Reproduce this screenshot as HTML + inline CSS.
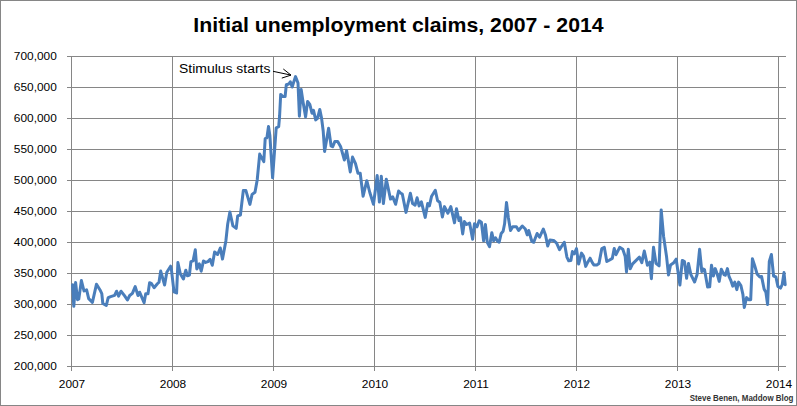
<!DOCTYPE html>
<html><head><meta charset="utf-8"><style>
html,body{margin:0;padding:0;background:#fff;}
body{width:797px;height:406px;position:relative;overflow:hidden;font-family:"Liberation Sans",sans-serif;}
.frame{position:absolute;left:0;top:0;width:795px;height:404px;border:1px solid #868686;}
svg{position:absolute;left:0;top:0;}
.title{position:absolute;left:0;width:797px;top:13px;text-align:center;font-weight:bold;font-size:21px;line-height:23px;color:#000;}
.title span{display:inline-block;transform:scaleX(1.013);transform-origin:center;}
.yl{position:absolute;right:740px;font-size:11px;line-height:14px;color:#000;transform:scaleX(1.08);transform-origin:right;}
.xl{position:absolute;top:377px;width:40px;text-align:center;font-size:11px;line-height:14px;color:#000;transform:scaleX(1.08);}
.ann{position:absolute;left:179px;top:62px;font-size:12.5px;line-height:15px;color:#000;transform:scaleX(1.115);transform-origin:left;white-space:nowrap;}
.foot{position:absolute;right:3.5px;top:392.5px;font-size:8.7px;line-height:10px;font-weight:bold;color:#333;transform:scaleX(0.915);transform-origin:right;white-space:nowrap;}
</style></head><body>
<div class="frame"></div>
<div class="title"><span>Initial unemployment claims, 2007 - 2014</span></div>
<svg width="797" height="406" viewBox="0 0 797 406">
<g stroke="#868686" stroke-width="1" fill="none" shape-rendering="crispEdges">
<line x1="67" y1="56.5" x2="786" y2="56.5"/>
<line x1="67" y1="87.5" x2="786" y2="87.5"/>
<line x1="67" y1="118.5" x2="786" y2="118.5"/>
<line x1="67" y1="149.5" x2="786" y2="149.5"/>
<line x1="67" y1="180.5" x2="786" y2="180.5"/>
<line x1="67" y1="211.5" x2="786" y2="211.5"/>
<line x1="67" y1="242.5" x2="786" y2="242.5"/>
<line x1="67" y1="273.5" x2="786" y2="273.5"/>
<line x1="67" y1="304.5" x2="786" y2="304.5"/>
<line x1="67" y1="335.5" x2="786" y2="335.5"/>
<line x1="67" y1="366.5" x2="786" y2="366.5"/>
<line x1="71.5" y1="56" x2="71.5" y2="371"/>
<line x1="172.5" y1="56" x2="172.5" y2="371"/>
<line x1="273.5" y1="56" x2="273.5" y2="371"/>
<line x1="374.5" y1="56" x2="374.5" y2="371"/>
<line x1="475.5" y1="56" x2="475.5" y2="371"/>
<line x1="576.5" y1="56" x2="576.5" y2="371"/>
<line x1="677.5" y1="56" x2="677.5" y2="371"/>
<line x1="778.5" y1="56" x2="778.5" y2="371"/>
</g>
<path d="M72.6,284.8 L73.8,306.3 L75.6,282.5 L77.5,299.7 L78.8,299 L81.4,280.5 L84,291 L86.6,289.8 L88.7,298.7 L92.4,302.3 L96.5,284.2 L99.9,289.7 L101.8,293.6 L102.8,303.5 L106.3,305.5 L108.2,297.6 L110.7,296.6 L114.6,295.4 L116.6,291.2 L118.6,296.1 L121,291.2 L124.5,295.6 L127.4,300 L129.7,295.5 L132.4,293.3 L135.2,286.6 L138,295.5 L139.6,292.2 L144.1,302.7 L145.7,293.8 L148,293.8 L149.6,282.7 L151.3,283.3 L154.1,287.7 L157.4,283.8 L159,282.2 L160.7,271.1 L164.6,285 L166.8,272.2 L170.6,266.2 L171.4,269.4 L174,291.8 L176.6,293 L177.9,262.6 L180.2,273.4 L183.4,279 L185.8,270.2 L187.4,275.8 L189.4,275 L190.9,261.6 L193.1,260.9 L195.3,249.8 L196.8,269 L199.3,263.8 L201.2,271.2 L203.5,260.9 L205.7,262.4 L207.9,261.6 L210.1,259.4 L212.3,265.3 L214.6,252 L217.6,254.5 L220.3,248 L222.5,259.1 L225.9,240.7 L227.7,224 L229.9,212 L232.9,225.9 L236.2,228.3 L237.7,215.9 L240.4,215 L243.3,190.6 L245.9,190.6 L249.9,204.4 L252.1,194.4 L255,192.2 L257.2,180 L259.7,154.1 L263.8,161.6 L265.2,138.6 L266.9,137.9 L268.5,126.4 L269.9,135.8 L272.6,177.8 L276.2,127.8 L278.7,126.7 L279.6,116 L280.7,94.4 L282.9,96.6 L285.1,96.6 L286.3,84.8 L288.8,84 L290.3,81.8 L292.2,87 L294,81.1 L295.5,76.6 L298,83 L299.4,116.2 L301.2,89.6 L303.1,102.2 L305.6,116.9 L307.6,101.4 L309.8,104.4 L312,113.2 L313.5,110.3 L315.7,119.9 L317.5,118.4 L319.8,109.5 L321.6,118.4 L323.2,131 L324.6,151.5 L328.6,128.3 L331.1,146 L332.6,146.8 L334.8,141.6 L337.7,141.6 L340.7,146.8 L344.4,160 L346.6,150.5 L350.3,171.9 L352.5,157.1 L355.5,163.7 L358,173.3 L360.2,173.3 L363.1,196.2 L366.8,180.7 L369.8,192.5 L373.5,204.3 L377.2,175.5 L379.4,202.1 L381.3,176.2 L383.4,203.6 L386.3,179.2 L390.5,199.1 L392.7,196.9 L395.6,204.3 L398.6,191 L400.8,193.2 L402.3,194 L406,212.4 L410.4,193.2 L412.6,203.6 L415.1,205.2 L417.1,197.8 L419.1,205.9 L421.4,201.8 L425.2,217.4 L427.7,203.6 L429.4,205.9 L431.6,196.2 L435.3,190.3 L437.6,200.7 L439.8,202.2 L442.4,216.9 L444.5,206.6 L447.9,213.2 L450.8,206.6 L454.5,222.8 L456.5,208.8 L459,220.6 L460.5,217.7 L462.7,233.9 L464.4,221.6 L466.6,224.5 L469.6,223.1 L472.6,239.3 L474.5,223.8 L477,226.8 L479.2,220.8 L481.4,222.3 L483.6,240.8 L485.4,224.5 L487.3,242.3 L489.5,246.7 L491.8,232.7 L493.7,240.8 L495.5,237.8 L497.7,241.5 L499.1,242.3 L501.2,233.4 L503.1,231.2 L504.6,223.8 L506.5,202.4 L508.3,217.2 L510.5,230.5 L512.7,226.8 L516.4,226.8 L518.6,230.5 L522.3,226 L525.3,229 L527.2,234.9 L528.7,230.5 L531.9,241.5 L533.7,242.3 L537.1,233.5 L539.6,237.2 L543.3,229 L545.5,235 L547.7,246 L549.9,240.1 L553.6,240.4 L556.6,243.1 L559.5,249.7 L561.8,246 L564.3,242.3 L566.9,257.1 L568.7,260.8 L570.9,260.4 L572.4,251.6 L574.2,253.8 L576.5,248.6 L578.6,264.1 L581.5,253.1 L583.5,256 L585.7,266.4 L587.9,261.9 L590.1,258.2 L592.3,262.7 L593.8,264.9 L596.8,264.9 L599,263.4 L601.8,248.5 L604.3,247.3 L606.8,261.5 L609.2,260.2 L612.3,258.4 L614.2,248.5 L616,254.7 L619.7,247.3 L622.8,249.2 L625.2,256.5 L626.5,271.9 L628.3,249.2 L630.2,268.8 L632.6,263.9 L636.9,259.6 L639.4,257.2 L641.8,262.7 L644.3,251 L647.4,265.2 L649.8,262.1 L651.4,278.7 L653.5,247.3 L656,263.3 L659.1,265.8 L661.2,209.9 L663.6,236.5 L666.5,256.2 L668.5,275 L670.5,265.1 L673.4,263.1 L676.2,259.2 L679.9,285 L682.3,260.4 L684.5,261.6 L686.6,278.3 L688.5,263.5 L690.9,274.6 L694.6,282 L697.1,274.6 L699.6,249.3 L701.8,271.5 L703,269 L704.5,269.6 L707.6,286.9 L709.7,286.8 L711.5,265.2 L713.4,276 L715.2,268.6 L717.2,274 L719.2,281.4 L721.3,269.2 L724,274.6 L725.3,275.3 L727.4,268.6 L729.1,276.7 L730.7,280.1 L732.8,286.2 L734.8,282.1 L736.8,289.6 L738.6,282.1 L740.9,285.5 L742.9,294.3 L744.3,307.5 L746.6,297.6 L748.6,299.8 L750.7,299.8 L752.4,258.8 L754.7,265.7 L757.2,274.3 L759.8,276.9 L761.6,276.6 L764.1,289 L765.9,292.4 L767.6,304.5 L769.3,261.4 L771.4,254.5 L773.6,276 L775.9,276.9 L777.9,286.4 L780.5,288.1 L782.2,284.7 L784,272.6 L785.2,284.7" fill="none" stroke="#4A7EBB" stroke-width="3" stroke-linejoin="round" stroke-linecap="round"/>
<g stroke="#000" stroke-width="1" fill="none">
<line x1="273" y1="71.3" x2="291" y2="75.1"/>
<polyline points="283.3,69 291,75.1 281.8,78.1"/>
</g>
</svg>
<div class="yl" style="top:49px">700,000</div>
<div class="yl" style="top:80px">650,000</div>
<div class="yl" style="top:111px">600,000</div>
<div class="yl" style="top:142px">550,000</div>
<div class="yl" style="top:173px">500,000</div>
<div class="yl" style="top:204px">450,000</div>
<div class="yl" style="top:235px">400,000</div>
<div class="yl" style="top:266px">350,000</div>
<div class="yl" style="top:297px">300,000</div>
<div class="yl" style="top:328px">250,000</div>
<div class="yl" style="top:359px">200,000</div>
<div class="xl" style="left:51.5px">2007</div>
<div class="xl" style="left:152.5px">2008</div>
<div class="xl" style="left:253.5px">2009</div>
<div class="xl" style="left:354.5px">2010</div>
<div class="xl" style="left:455.5px">2011</div>
<div class="xl" style="left:556.5px">2012</div>
<div class="xl" style="left:657.5px">2013</div>
<div class="xl" style="left:758.5px">2014</div>
<div class="ann">Stimulus starts</div>
<div class="foot">Steve Benen, Maddow Blog</div>
</body></html>
